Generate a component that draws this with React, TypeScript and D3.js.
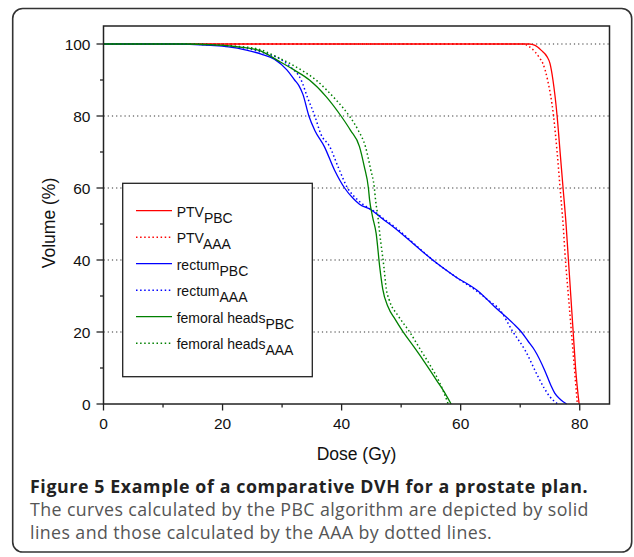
import React from "react";
import * as d3 from "d3";

// ---- data (dose in Gy, volume in %) ----
const ptvPbcDose = [0, 71.5, 72.5, 73.5, 74.5, 75, 75.5, 76.2, 76.7, 77.2, 77.7, 78.1, 78.5, 78.9, 79.3, 79.9];
const ptvPbcVol = [100, 100, 99.6, 98.3, 96.5, 94.6, 90, 80, 70, 60, 50, 40, 30, 20, 10, 0];

const ptvAaaDose = [0, 70.4, 71.5, 72.5, 73.3, 73.8, 74.6, 75.6, 76.2, 76.7, 77.2, 77.6, 78.1, 78.6, 79.1, 79.6];
const ptvAaaVol = [100, 100, 99.3, 97.8, 96, 94.6, 90, 80, 70, 60, 50, 40, 30, 20, 10, 0];

const rectumPbcDose = [0, 12, 14.5, 18, 21, 24, 26.5, 28.7, 30.8, 32.1, 32.8, 33.5, 34.5, 35.5, 37.1, 38.8, 40.5, 42, 43, 45, 46.8, 48.6, 52, 55.3, 59, 63.2, 65.7, 68.8, 70.2, 71.3, 72.4, 74.1, 75.2, 75.8, 76.8, 77.8];
const rectumPbcVol = [100, 100, 99.9, 99.6, 99.2, 98.3, 97.2, 95.8, 92.8, 90, 88.5, 86, 80, 76, 71.5, 65, 60, 57, 55.5, 53.9, 51.5, 49.3, 44.6, 40, 35.5, 31, 27, 22.4, 20, 17.5, 15, 9.4, 5, 3, 1.2, 0];

const rectumAaaDose = [0, 12, 16, 20, 24, 27, 29.5, 31.5, 33.2, 34.3, 35.5, 36.5, 38, 39.5, 41, 42.5, 44, 45.5, 47, 48.6, 52, 55.3, 59, 63, 64.5, 66.6, 68.8, 70.8, 73, 74, 75, 76.3];
const rectumAaaVol = [100, 100, 99.9, 99.6, 98.8, 97.5, 96, 93.5, 90, 85, 80, 75, 71.5, 65.5, 60, 57, 55, 53.5, 51.5, 49.6, 44.8, 40, 35.5, 31, 29, 26.1, 20, 15, 7.6, 4.5, 2, 0];

const femoralPbcDose = [0, 14, 18, 22, 26, 29.6, 32, 34.6, 37.4, 39.9, 41.5, 43, 43.8, 44.5, 44.7, 45.2, 45.8, 46.4, 46.9, 47.8, 49, 50.3, 52, 53.7, 55, 55.9, 57, 58.4];
const femoralPbcVol = [100, 100, 99.8, 99.3, 98.3, 95.1, 92.8, 90, 85.4, 80, 76, 71.5, 66, 60, 56.7, 52, 47.4, 38.1, 32, 27, 23.5, 20.1, 16.2, 12.2, 9, 6.7, 4, 0];

const femoralAaaDose = [0, 14, 18, 22, 26, 29, 31.3, 33.5, 35.7, 37.5, 39.1, 41.3, 42.8, 44, 44.9, 45.5, 45.7, 46.1, 46.4, 47.1, 47.5, 48, 49.5, 51.4, 53.2, 55, 56.3, 57.1, 57.9];
const femoralAaaVol = [100, 100, 99.8, 99.4, 98.6, 96.5, 94.6, 92.5, 90, 87.2, 84.4, 80, 76, 71.5, 65, 60, 56.7, 52, 47.4, 38.1, 32, 28.9, 24.5, 20.1, 15.2, 10.4, 6.5, 3.5, 0];

const xTicks = [0, 20, 40, 60, 80];
const xMinorTicks = [10, 30, 50, 70];
const yTicks = [0, 20, 40, 60, 80, 100];
const yMinorTicks = [10, 30, 50, 70, 90];
const gridValues = [20, 40, 60, 80, 100];

const seriesNames = ["PTV", "PTV", "rectum", "rectum", "femoral heads", "femoral heads"];
const seriesSubs = ["PBC", "AAA", "PBC", "AAA", "PBC", "AAA"];
const seriesColors = ["#ff0000", "#ff0000", "#0000ff", "#0000ff", "#008000", "#008000"];
const seriesDotted = [false, true, false, true, false, true];
const seriesDose = [ptvPbcDose, ptvAaaDose, rectumPbcDose, rectumAaaDose, femoralPbcDose, femoralAaaDose];
const seriesVol = [ptvPbcVol, ptvAaaVol, rectumPbcVol, rectumAaaVol, femoralPbcVol, femoralAaaVol];

const xLabel = "Dose (Gy)";
const yLabel = "Volume (%)";
const captionBold = "Figure 5 Example of a comparative DVH for a prostate plan.";
const captionLines = [
  "The curves calculated by the PBC algorithm are depicted by solid",
  "lines and those calculated by the AAA by dotted lines.",
];

const W = 634;
const H = 557;
const plot = { left: 103.5, right: 609.5, top: 26, bottom: 404 };

export default function App() {
  const x = d3.scaleLinear().domain([0, 85]).range([plot.left, plot.right]);
  const y = d3.scaleLinear().domain([0, 105]).range([plot.bottom, plot.top]);
  const line = d3
    .line<[number, number]>()
    .x((d) => x(d[0]))
    .y((d) => y(d[1]))
    .curve(d3.curveMonotoneX);

  const axisFont = "'Liberation Sans', Arial, sans-serif";
  const captionFont = "'Open Sans', sans-serif";
  const axisColor = "#222";

  const legend = { x: 122.7, y: 183.3, w: 189.6, h: 193.4 };
  const rowY0 = 210.7;
  const rowStep = 26.5;

  return (
    <svg
      width={W}
      height={H}
      style={{ position: "absolute", left: 0, top: 0, background: "#fff" }}
    >
      <rect x={12.7} y={8.5} width={619} height={543.5} rx={10} ry={10} fill="#fff" stroke="#333" strokeWidth={1.6} />

      {/* grid */}
      {gridValues.map((v) => (
        <line
          key={"g" + v}
          x1={plot.left}
          x2={plot.right}
          y1={y(v)}
          y2={y(v)}
          stroke="#333"
          strokeWidth={1.1}
          strokeDasharray="1.2 3"
        />
      ))}

      {/* curves */}
      {seriesDose.map((doses, i) => {
        const pts = doses.map((d, k) => [d, seriesVol[i][k]] as [number, number]);
        return (
          <path
            key={"s" + i}
            d={line(pts) || ""}
            fill="none"
            stroke={seriesColors[i]}
            strokeWidth={seriesDotted[i] ? 1.5 : 1.3}
            strokeDasharray={seriesDotted[i] ? "1.5 2.6" : undefined}
          />
        );
      })}

      {/* frame */}
      <rect
        x={plot.left}
        y={plot.top}
        width={plot.right - plot.left}
        height={plot.bottom - plot.top}
        fill="none"
        stroke={axisColor}
        strokeWidth={1.5}
      />

      {/* x ticks */}
      {xTicks.map((t) => (
        <g key={"xt" + t}>
          <line x1={x(t)} x2={x(t)} y1={plot.bottom} y2={plot.bottom + 6.5} stroke={axisColor} strokeWidth={1.3} />
          <text x={x(t)} y={429.3} textAnchor="middle" fontFamily={axisFont} fontSize={15.5} fill="#111">
            {t}
          </text>
        </g>
      ))}
      {xMinorTicks.map((t) => (
        <line key={"xm" + t} x1={x(t)} x2={x(t)} y1={plot.bottom} y2={plot.bottom + 3.5} stroke={axisColor} strokeWidth={1.3} />
      ))}

      {/* y ticks */}
      {yTicks.map((t) => (
        <g key={"yt" + t}>
          <line x1={plot.left - 7} x2={plot.left} y1={y(t)} y2={y(t)} stroke={axisColor} strokeWidth={1.3} />
          <text x={plot.left - 13} y={y(t) + 5.5} textAnchor="end" fontFamily={axisFont} fontSize={15.5} fill="#111">
            {t}
          </text>
        </g>
      ))}
      {yMinorTicks.map((t) => (
        <line key={"ym" + t} x1={plot.left - 3.5} x2={plot.left} y1={y(t)} y2={y(t)} stroke={axisColor} strokeWidth={1.3} />
      ))}

      {/* axis titles */}
      <text x={(plot.left + plot.right) / 2} y={460} textAnchor="middle" fontFamily={axisFont} fontSize={17.5} fill="#111">
        {xLabel}
      </text>
      <text
        transform={`translate(54.5,223) rotate(-90)`}
        textAnchor="middle"
        fontFamily={axisFont}
        fontSize={17.5}
        fill="#111"
      >
        {yLabel}
      </text>

      {/* legend */}
      <rect x={legend.x} y={legend.y} width={legend.w} height={legend.h} fill="#fff" stroke={axisColor} strokeWidth={1.3} />
      {seriesNames.map((name, i) => {
        const ly = rowY0 + i * rowStep;
        return (
          <g key={"l" + i}>
            <line
              x1={136}
              x2={172}
              y1={ly}
              y2={ly}
              stroke={seriesColors[i]}
              strokeWidth={seriesDotted[i] ? 1.5 : 1.3}
              strokeDasharray={seriesDotted[i] ? "1.5 2.6" : undefined}
            />
            <text x={176.7} y={ly + 6} fontFamily={axisFont} fontSize={14} fill="#111">
              {name}
              <tspan dy={6}>{seriesSubs[i]}</tspan>
            </text>
          </g>
        );
      })}

      {/* caption */}
      <text x={30} y={493} fontFamily={captionFont} fontWeight="bold" fontSize={17.8} letterSpacing={0.6} fill="#222">
        {captionBold}
      </text>
      {captionLines.map((l, i) => (
        <text key={"c" + i} x={30} y={516 + i * 23} fontFamily={captionFont} fontSize={17.8} letterSpacing={0.4} fill="#555">
          {l}
        </text>
      ))}
    </svg>
  );
}
